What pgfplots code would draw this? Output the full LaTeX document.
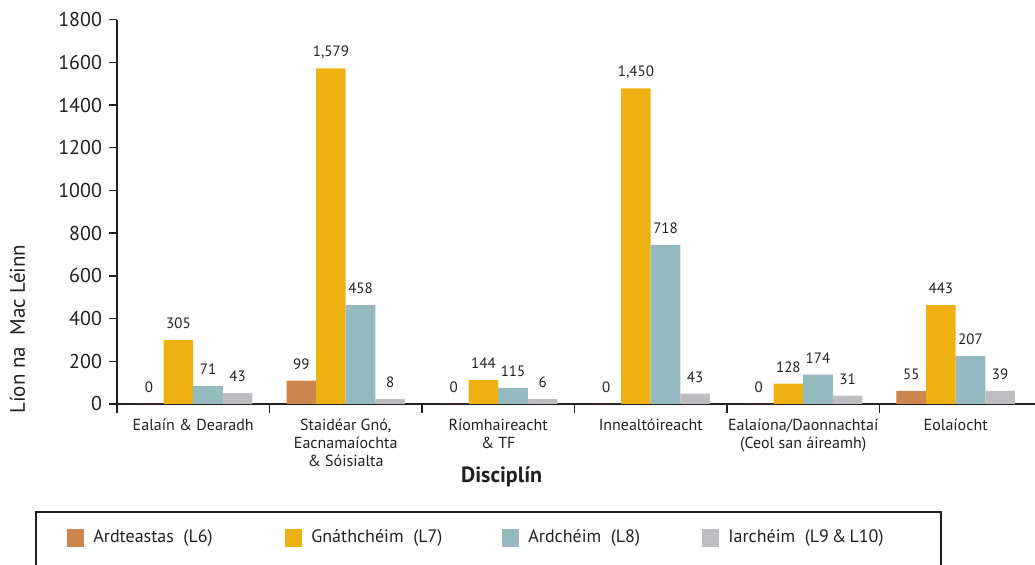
\documentclass[border=0pt]{standalone}
\usepackage{pgfplots}
\pgfplotsset{compat=1.18}
\usepackage{fontspec}
\setmainfont{PT Sans}
\definecolor{cLsix}{HTML}{CD8550}
\definecolor{cLseven}{HTML}{EDB212}
\definecolor{cLeight}{HTML}{94BAC0}
\definecolor{cLnine}{HTML}{BDBDC1}
\definecolor{txt}{HTML}{231F20}
\newcommand{\legtxt}[2]{\makebox[#1][l]{\fontsize{9}{10}\selectfont #2}}
\begin{document}
\begin{tikzpicture}
\begin{axis}[
  at={(0,0)}, anchor=south west,
  scale only axis, width=459pt, height=192.2pt,
  xmin=-0.5, xmax=5.52, ymin=0, ymax=1800,
  axis lines*=left,
  axis line style={line width=0.7pt, color=txt},
  enlargelimits=false, clip=false,
  ybar=0pt, bar width=14.8pt,
  ytick={0,200,...,1800},
  yticklabel style={font=\fontsize{10}{12}\selectfont, text=txt},
  /pgf/number format/assume math mode=true,
  /pgf/number format/1000 sep={},
  xtick={0,...,5},
  xticklabels={{Ealaín \& Dearadh},{Staidéar Gnó,\\Eacnamaíochta\\\& Sóisialta},{Ríomhaireacht\\\& TF},{Innealtóireacht},{Ealaíona/Daonnachtaí\\(Ceol san áireamh)},{Eolaíocht}},
  xticklabel style={font=\fontsize{8}{9}\selectfont, align=center, text=txt},
  minor xtick={-0.5,0.5,...,4.5},
  major x tick style={draw=none},
  minor x tick style={line width=0.7pt, color=txt},
  major y tick style={line width=0.7pt, color=txt},
  tick align=outside,
  major tick length=4pt, minor tick length=4.5pt,
  ylabel={Líon na\ \ Mac Léinn},
  ylabel style={at={(axis description cs:-0.1084,0.195)}, anchor=center, font=\fontsize{10.5}{12}\selectfont, text=txt},
  xlabel={Disciplín},
  xlabel style={at={(axis description cs:0.419,-0.189)}, anchor=center, font=\fontsize{11}{13}\selectfont\bfseries, text=txt},
  point meta=explicit symbolic,
  nodes near coords,
  every node near coord/.append style={font=\fontsize{7.5}{9}\selectfont, text=txt, inner sep=0pt, yshift=5.5pt, text depth=0pt},
  legend columns=4,
  legend image code/.code={\fill[#1] (0pt,-4.5pt) rectangle (8.5pt,4.5pt);},
  legend style={at={(axis description cs:-0.0545,-0.3486)}, anchor=west, draw=none, fill=none, inner sep=0pt,
    nodes={inner sep=0pt, text=txt},
    /tikz/every odd column/.append style={column sep=4.5pt},
    /tikz/every even column/.append style={column sep=0pt}},
]
\addplot[fill=cLsix, draw=none] coordinates {(0,0) [0] (1,109) [99] (2,0) [0] (3,0) [0] (4,0) [0] (5,61) [55]};
\addplot[fill=cLseven, draw=none] coordinates {(0,299) [305] (1,1572) [1{,}579] (2,112) [144] (3,1478) [1{,}450] (4,95) [128] (5,463) [443]};
\addplot[fill=cLeight, draw=none] coordinates {(0,84) [71] (1,463) [458] (2,75) [115] (3,745) [718] (4,137) [174] (5,224) [207]};
\addplot[fill=cLnine, draw=none] coordinates {(0,51) [43] (1,23) [8] (2,23) [6] (3,48) [43] (4,39) [31] (5,61) [39]};
\legend{\legtxt{96pt}{Ardteastas\ \ (L6)},\legtxt{95.5pt}{Gnáthchéim\ \ (L7)},\legtxt{87pt}{Ardchéim\ \ (L8)},\legtxt{90pt}{Iarchéim\ \ (L9\,\&\,L10)}}
\end{axis}
\draw[line width=0.6pt, color=txt] (-40.5pt,-54pt) rectangle (412pt,-100pt);
\pgfresetboundingbox
\useasboundingbox (-58.5pt,-80.5pt) rectangle (459pt,202pt);
\end{tikzpicture}
\end{document}
